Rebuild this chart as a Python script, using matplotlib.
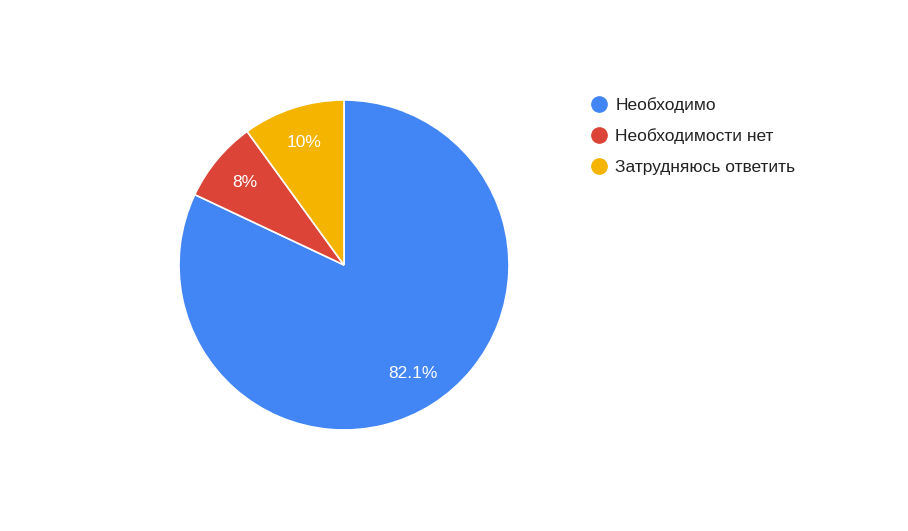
import matplotlib.pyplot as plt
from matplotlib.lines import Line2D

# Survey answers (share of respondents, %)
categories = ['Необходимо', 'Необходимости нет', 'Затрудняюсь ответить']
shares = [82.1, 8, 10]
pct_labels = ['82.1%', '8%', '10%']
colors = ['#4285F4', '#DB4437', '#F4B400']

W, H = 908, 531
fig = plt.figure(figsize=(W / 100, H / 100), dpi=100)
plt.rcParams['font.family'] = ['Liberation Sans', 'DejaVu Sans']

# pie centre ~(344, 265) px, radius ~165 px
cx, cy, r = 344, 265, 165
ax = fig.add_axes([(cx - r) / W, 1 - (cy + r) / H, 2 * r / W, 2 * r / H])
wedges, texts, autotexts = ax.pie(
    shares, colors=colors, startangle=90, counterclock=False,
    autopct='%1.1f%%', pctdistance=0.78, radius=1,
    wedgeprops=dict(edgecolor='white', linewidth=1.2))
for t, lab in zip(autotexts, pct_labels):
    t.set_text(lab)
    t.set_color('white')
    t.set_fontsize(12.5)
ax.set_xlim(-1, 1)
ax.set_ylim(-1, 1)
ax.set_aspect('equal')

handles = [Line2D([], [], marker='o', linestyle='', markersize=11,
                  markerfacecolor=c, markeredgecolor=c) for c in colors]
fig.legend(handles, categories, loc='upper left',
           bbox_to_anchor=(590 / W, 1 - 97 / H), frameon=False,
           fontsize=12.5, labelspacing=0.9, handletextpad=0.45,
           handlelength=1.0, borderaxespad=0, borderpad=0,
           labelcolor='#222222')

fig.savefig('out.png', dpi=100)
